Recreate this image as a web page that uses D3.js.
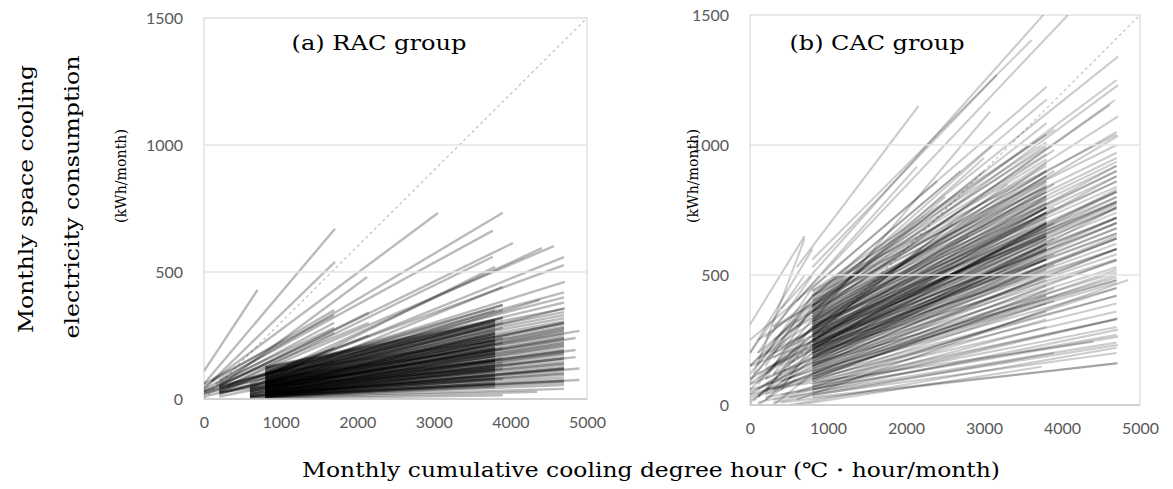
<!DOCTYPE html>
<html>
<head>
<meta charset="utf-8">
<script src="https://cdn.jsdelivr.net/npm/d3@7"></script>
<style>
  body { margin: 0; background: #fff; }
  svg { display: block; }
</style>
</head>
<body>
<svg id="chart" width="1173" height="489"></svg>
<script>
// axis ticks and titles
let xTicks = [0, 1000, 2000, 3000, 4000, 5000];
let yTicks = [0, 500, 1000, 1500];
let panelTitles = ["(a) RAC group", "(b) CAC group"];
let refLine = [[0, 0], [5000, 1500]];

// ---- (a) RAC group ----
// single lines: [cdh start, kWh start, cdh end, kWh end]
let racSingle = [
  [0, 110, 700, 430], [0, 60, 1710, 670], [0, 40, 1710, 540], [100, 70, 3054, 732],
  [150, 60, 3900, 733], [200, 75, 3771, 663], [200, 50, 2130, 480], [200, 50, 4033, 614],
  [200, 40, 4568, 602], [600, 60, 4698, 559], [200, 30, 4698, 527], [800, 90, 4411, 594],
  [0, 20, 4711, 461], [300, 50, 3771, 560], [600, 40, 3800, 520], [800, 60, 3900, 441],
  [800, 60, 4385, 390], [0, 30, 3900, 370], [200, 20, 4711, 358],
  [0, 50, 1700, 350], [200, 60, 1700, 300], [0, 40, 1700, 280], [200, 50, 2150, 340],
  [0, 30, 2150, 300], [800, 100, 4700, 420], [600, 80, 4700, 380], [600, 50, 3800, 350],
  [200, 25, 3800, 180], [200, 30, 3800, 250], [200, 40, 3800, 300], [200, 50, 4700, 400],
  [200, 25, 4700, 300], [0, 20, 3900, 320], [200, 40, 1700, 200], [0, 60, 1700, 330],
  [200, 30, 2150, 250], [0, 30, 1700, 260], [200, 20, 1700, 150], [0, 10, 700, 60],
  [0, 25, 600, 80], [200, 10, 1700, 100],
  [800, 60, 4900, 268], [800, 50, 4850, 240], [800, 40, 4850, 193], [800, 30, 4850, 165],
  [800, 15, 4900, 75], [800, 5, 4350, 28], [600, 0, 3900, 15], [800, 20, 4900, 120]
];
// bundles sharing the same cdh range: [kWh start, kWh end]
let rac800to3800 = [
  [8, 47], [10, 55], [12, 62], [14, 70], [16, 78], [18, 85], [20, 92], [22, 100], [25, 108],
  [28, 115], [30, 122], [33, 130], [36, 138], [40, 146], [43, 154], [46, 162], [50, 170],
  [53, 178], [56, 186], [60, 194], [63, 202], [66, 210], [70, 218], [74, 226], [78, 234],
  [82, 242], [86, 250], [90, 258], [95, 266], [100, 274], [105, 282], [110, 290], [116, 298],
  [122, 305], [126, 312], [10, 120], [15, 150], [20, 180], [30, 220], [40, 260], [60, 150],
  [80, 200], [100, 230], [50, 120], [25, 80]
];
let rac800to4700 = [
  [8, 55], [10, 65], [12, 75], [15, 85], [18, 95], [20, 105], [23, 115], [26, 125], [30, 135],
  [33, 145], [36, 155], [40, 165], [44, 175], [48, 185], [52, 195], [56, 205], [60, 215],
  [64, 225], [68, 235], [72, 245], [76, 255], [80, 265], [85, 275], [90, 285], [95, 295],
  [100, 305], [106, 318], [112, 330], [118, 342], [124, 355], [20, 160], [40, 220], [60, 280],
  [15, 120], [30, 190]
];
let rac800to3900 = [
  [12, 80], [20, 120], [30, 160], [40, 200], [50, 240], [60, 280], [70, 320], [80, 350],
  [90, 370], [25, 140], [45, 220], [65, 300]
];
let rac600to3800 = [
  [8, 60], [12, 90], [16, 130], [20, 170], [25, 200], [30, 230], [35, 260], [40, 290],
  [45, 310], [10, 110], [20, 150], [30, 190]
];
let rac600to4700 = [
  [5, 40], [8, 70], [12, 100], [16, 140], [20, 180], [25, 210], [30, 240], [35, 270],
  [40, 300], [10, 120]
];

// ---- (b) CAC group ----
let cacSingle = [
  [0, 310, 700, 650], [50, 120, 700, 640], [0, 200, 800, 600], [600, 530, 2160, 1150],
  [400, 370, 3760, 1500], [600, 400, 4077, 1500], [800, 560, 3611, 1404], [800, 530, 3164, 1269],
  [300, 300, 2140, 917], [800, 450, 3803, 1224], [800, 420, 3803, 1175], [800, 400, 4718, 1340],
  [800, 380, 4700, 1250], [700, 340, 4718, 1230], [800, 350, 4615, 1154], [600, 320, 4718, 1110],
  [800, 380, 3803, 1084], [500, 280, 4718, 1035], [800, 320, 3077, 1128], [300, 250, 3120, 1000],
  [600, 300, 4680, 1173],
  [0, 20, 3800, 500], [100, 40, 4700, 760], [200, 80, 3800, 700], [300, 150, 4700, 830],
  [0, 100, 3800, 800], [200, 200, 3800, 900], [100, 250, 3800, 1000], [300, 300, 4700, 1050],
  [0, 150, 4700, 700], [500, 100, 4700, 600], [600, 50, 4700, 450],
  [0, 30, 4700, 560], [100, 60, 3800, 620], [200, 100, 4700, 720], [300, 120, 3800, 760],
  [0, 80, 4700, 640], [400, 150, 3800, 700], [500, 200, 4700, 880], [200, 180, 3800, 850],
  [100, 10, 4700, 330], [300, 60, 4700, 500], [0, 50, 3800, 560], [600, 250, 3800, 930],
  [400, 220, 4700, 920], [500, 120, 3800, 600], [600, 80, 4700, 420], [200, 40, 3800, 420],
  [100, 120, 3800, 650], [300, 200, 4700, 780], [0, 60, 4700, 480], [500, 160, 3800, 740],
  [200, 140, 4700, 820], [400, 90, 3800, 540], [100, 180, 3800, 760], [0, 40, 3900, 400],
  [0, 150, 2500, 800], [100, 200, 3000, 900], [200, 120, 2600, 700], [0, 80, 2200, 600],
  [300, 180, 3300, 850], [100, 100, 2800, 650], [400, 250, 3000, 950], [200, 260, 2700, 900],
  [0, 250, 2400, 860],
  [600, 0, 3740, 147], [400, 10, 4718, 161], [300, 20, 4718, 231], [200, 30, 4718, 263],
  [500, 30, 4718, 290], [400, 40, 4718, 334], [200, 60, 4400, 243], [600, 20, 4846, 481],
  [300, 10, 3900, 200], [500, 0, 4700, 220],
  [0, 60, 800, 300], [100, 30, 800, 250], [0, 10, 600, 150], [200, 100, 800, 380],
  [100, 150, 800, 450], [0, 200, 700, 500], [300, 0, 800, 120], [0, 120, 800, 420],
  [200, 50, 700, 250], [0, 90, 600, 330], [100, 0, 600, 100], [300, 60, 800, 200],
  [0, 150, 800, 400], [100, 80, 800, 330], [200, 150, 800, 420], [0, 100, 700, 330],
  [300, 120, 800, 300], [100, 200, 800, 500], [0, 40, 800, 200], [200, 20, 800, 180],
  [400, 60, 800, 230]
];
let cac800to3800 = [
  [60, 300], [70, 330], [80, 360], [90, 390], [100, 420], [110, 440], [120, 460], [130, 480],
  [140, 500], [150, 520], [160, 540], [170, 560], [180, 575], [190, 590], [200, 605], [210, 620],
  [220, 635], [230, 650], [240, 665], [250, 680], [260, 695], [270, 710], [280, 725], [290, 740],
  [300, 760], [310, 775], [320, 790], [330, 805], [340, 820], [350, 840], [360, 860], [370, 880],
  [380, 900], [390, 920], [400, 945], [410, 965], [420, 990], [430, 1010], [440, 1040],
  [200, 700], [250, 760], [300, 820], [220, 560], [280, 650], [180, 620],
  [200, 640], [210, 660], [230, 690], [240, 720], [260, 740], [270, 760], [290, 800], [310, 830],
  [320, 860], [340, 880], [250, 650], [230, 600], [270, 700], [300, 740], [330, 780], [360, 840],
  [190, 560], [210, 600]
];
let cac800to4700 = [
  [30, 160], [40, 200], [50, 240], [60, 270], [70, 300], [80, 330], [90, 360], [100, 390],
  [110, 420], [120, 450], [130, 470], [140, 490], [150, 510], [160, 530], [170, 555], [180, 580],
  [190, 600], [200, 620], [210, 640], [220, 660], [230, 680], [240, 700], [250, 720], [260, 740],
  [270, 755], [280, 770], [290, 785], [300, 800], [310, 820], [320, 840], [330, 860], [340, 880],
  [350, 900], [360, 920], [370, 935], [380, 950], [400, 970], [420, 1000], [440, 1040],
  [150, 600], [200, 700], [250, 800], [120, 520], [180, 650], [230, 760],
  [190, 640], [210, 680], [230, 720], [260, 780], [280, 820], [300, 860], [320, 900],
  [240, 660], [270, 720], [290, 760], [310, 780], [200, 560], [160, 480], [220, 600]
];
let cac800to3900 = [
  [100, 450], [150, 540], [180, 640], [220, 700], [250, 760], [300, 850], [330, 900],
  [380, 980], [420, 1060], [200, 580]
];

function bundle(x0, x1, pairs) {
  return pairs.map((d) => [x0, d[0], x1, d[1]]);
}

let racLines = racSingle.concat(
  bundle(800, 3800, rac800to3800),
  bundle(800, 4700, rac800to4700),
  bundle(800, 3900, rac800to3900),
  bundle(600, 3800, rac600to3800),
  bundle(600, 4700, rac600to4700)
);
let cacLines = cacSingle.concat(
  bundle(800, 3800, cac800to3800),
  bundle(800, 4700, cac800to4700),
  bundle(800, 3900, cac800to3900)
);

let svg = d3.select("#chart");

let panels = [
  { lines: racLines, title: panelTitles[0], left: 204, right: 587, top: 18, bottom: 399, titleX: 379, opacity: 0.27, width: 2.4 },
  { lines: cacLines, title: panelTitles[1], left: 750, right: 1140, top: 15, bottom: 405, titleX: 877, opacity: 0.2, width: 2.1 }
];

panels.forEach(drawPanel);
drawTitles();

function drawPanel(p) {
  let xScale = d3.scaleLinear().domain([0, 5000]).range([p.left, p.right]);
  let yScale = d3.scaleLinear().domain([0, 1500]).range([p.bottom, p.top]);
  let g = svg.append("g");

  // clip lines that run past the top of the frame
  let clipId = "clip" + p.left;
  g.append("clipPath").attr("id", clipId)
    .append("rect")
    .attr("x", p.left).attr("y", p.top)
    .attr("width", p.right - p.left + 20).attr("height", p.bottom - p.top);

  g.append("rect")
    .attr("x", p.left).attr("y", p.top)
    .attr("width", p.right - p.left).attr("height", p.bottom - p.top)
    .attr("fill", "none").attr("stroke", "#d9d9d9").attr("stroke-width", 1.2);

  // y = 0.3x reference
  g.append("line")
    .attr("x1", xScale(refLine[0][0])).attr("y1", yScale(refLine[0][1]))
    .attr("x2", xScale(refLine[1][0])).attr("y2", yScale(refLine[1][1]))
    .attr("stroke", "#c4c4c4").attr("stroke-width", 1.3)
    .attr("stroke-dasharray", "3,3");

  g.append("g")
    .attr("clip-path", `url(#${clipId})`)
    .selectAll("line")
    .data(p.lines)
    .join("line")
    .attr("x1", (d) => xScale(d[0]))
    .attr("y1", (d) => yScale(d[1]))
    .attr("x2", (d) => xScale(d[2]))
    .attr("y2", (d) => yScale(d[3]))
    .attr("stroke", "#000")
    .attr("stroke-opacity", p.opacity)
    .attr("stroke-width", p.width);

  // gridlines sit on top of the lines
  g.append("g")
    .selectAll("line")
    .data(yTicks.filter((t) => t > 0 && t < 1500))
    .join("line")
    .attr("x1", p.left).attr("x2", p.right)
    .attr("y1", (d) => yScale(d)).attr("y2", (d) => yScale(d))
    .attr("stroke", "#e4e4e4").attr("stroke-width", 1.5);

  g.append("line")
    .attr("x1", p.left).attr("x2", p.right)
    .attr("y1", p.bottom).attr("y2", p.bottom)
    .attr("stroke", "#c8c8c8").attr("stroke-width", 1.5);

  // tick labels
  let yAxis = d3.axisLeft(yScale).tickValues(yTicks).tickSize(0).tickPadding(21).tickFormat(d3.format("d"));
  let xAxis = d3.axisBottom(xScale).tickValues(xTicks).tickSize(0).tickPadding(18).tickFormat(d3.format("d"));

  let ya = g.append("g").attr("transform", `translate(${p.left},0)`).call(yAxis);
  let xa = g.append("g").attr("transform", `translate(0,${p.bottom})`).call(xAxis);
  [ya, xa].forEach((a) => {
    a.select(".domain").remove();
    a.selectAll("text")
      .attr("fill", "#595959")
      .style("font-family", "Lato, 'Liberation Sans', sans-serif")
      .style("font-size", "16px");
  });

  g.append("text")
    .attr("x", p.titleX).attr("y", 50)
    .attr("text-anchor", "middle")
    .attr("textLength", 175).attr("lengthAdjust", "spacingAndGlyphs")
    .style("font-family", "'DejaVu Serif', serif")
    .style("font-size", "20px")
    .text(p.title);
}

function drawTitles() {
  let serif = "'DejaVu Serif', serif";

  svg.append("text")
    .attr("x", 651).attr("y", 477)
    .attr("text-anchor", "middle")
    .attr("textLength", 698).attr("lengthAdjust", "spacingAndGlyphs")
    .style("font-family", serif).style("font-size", "20px")
    .text("Monthly cumulative cooling degree hour (\u2103\u30FBhour/month)");

  svg.append("text")
    .attr("transform", "translate(33,199) rotate(-90)")
    .attr("text-anchor", "middle")
    .attr("textLength", 268).attr("lengthAdjust", "spacingAndGlyphs")
    .style("font-family", serif).style("font-size", "20px")
    .text("Monthly space cooling");

  svg.append("text")
    .attr("transform", "translate(79,197) rotate(-90)")
    .attr("text-anchor", "middle")
    .attr("textLength", 283).attr("lengthAdjust", "spacingAndGlyphs")
    .style("font-family", serif).style("font-size", "20px")
    .text("electricity consumption");

  [126, 698].forEach((x) => {
    svg.append("text")
      .attr("transform", `translate(${x},176) rotate(-90)`)
      .attr("text-anchor", "middle")
      .attr("textLength", 94).attr("lengthAdjust", "spacingAndGlyphs")
      .style("font-family", serif).style("font-size", "14px")
      .text("(kWh/month)");
  });
}
</script>
</body>
</html>
